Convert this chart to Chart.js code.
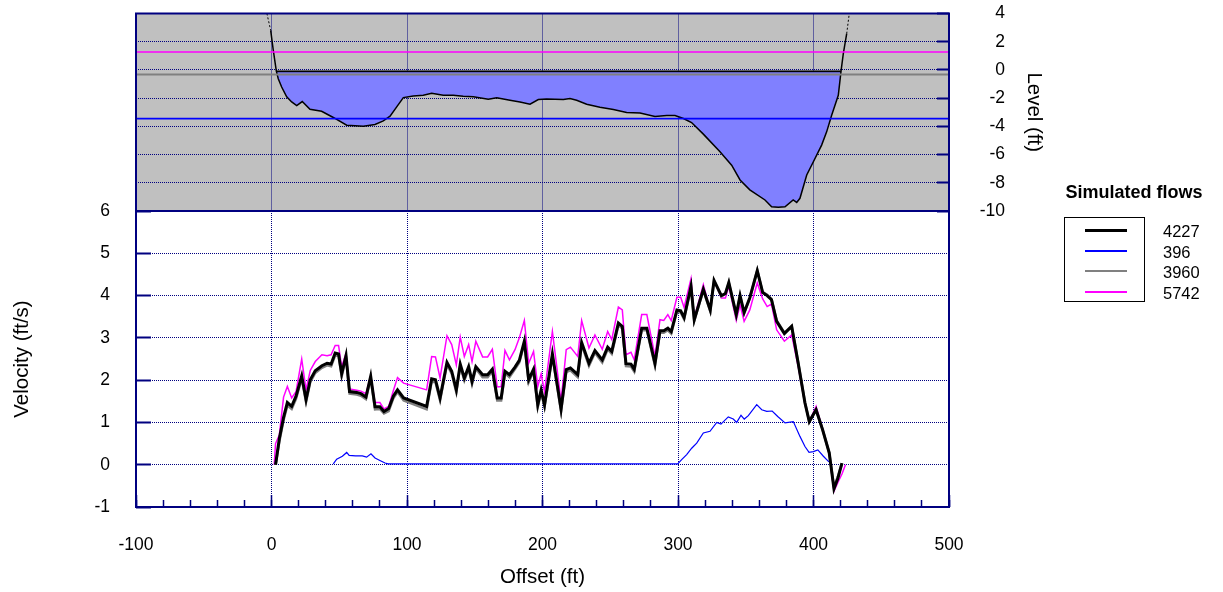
<!DOCTYPE html>
<html>
<head>
<meta charset="utf-8">
<script src="https://cdn.jsdelivr.net/npm/chart.js@4/dist/chart.umd.min.js"></script>
<style>
html, body { margin: 0; padding: 0; background: #fff; }
#wrap { position: relative; width: 1223px; height: 592px; overflow: hidden; font-family: 'Liberation Sans', Arial, sans-serif; color: #000; }
#wrap canvas { position: absolute; left: 0; top: 0; }
#legendTitle { position: absolute; left: 1056px; top: 181px; width: 156px; text-align: center; font-weight: bold; font-size: 18px; line-height: 22px; white-space: nowrap; }
#legendBox { position: absolute; left: 1064px; top: 217px; width: 79px; height: 83px; border: 1px solid #000; }
.legLine { position: absolute; left: 1085px; width: 42px; }
.legLabel { position: absolute; left: 1163px; font-size: 16.5px; line-height: 20px; white-space: nowrap; }
</style>
</head>
<body>
<div id="wrap">
  <canvas id="velChart" width="1223" height="592"></canvas>
  <canvas id="levelChart" width="1223" height="592"></canvas>
  <div id="legendTitle">Simulated flows</div>
  <div id="legendBox"></div>
</div>
<script>
// ---------------- data ----------------
const flowLabels = ['4227', '396', '3960', '5742'];
const flowColors = ['#000000', '#0000FF', '#808080', '#FF00FF'];

// upper panel: water surface level of each flow (ft) and its extent (ft)
const waterLevel  = [-0.1, -3.45, -0.32, 1.27];
const surfaceFrom = [3.6, -100, -100, -100];
const surfaceTo   = [420.3, 500, 500, 500];

// upper panel: ground profile
const profileOffset = [-3.4, -0.6, 1.3, 3.6, 5.0, 7.5, 11.2, 14.9, 18.6, 22.7, 28.4, 37, 45.6, 55.5, 67.8, 76.4, 82.5, 87.5, 92.4, 97.3,
  104.6, 112, 118.2, 126.8, 134.2, 141.5, 149, 160, 166.2, 176, 183.4, 190.8, 196.9, 203, 215.4, 220.3, 225.2, 232.6, 242.4, 252.3,
  262.1, 272, 283, 291.7, 297.8, 304, 310, 318.7, 331, 339.6, 345.8, 353, 364.2, 369.1, 374, 379, 385, 387.6, 390, 395,
  399.9, 406, 409.7, 413.4, 418.3, 420.3, 422, 424.5, 426.4];
const profileLevel = [4.0, 2.8, 1.4, -0.1, -0.62, -1.21, -1.9, -2.27, -2.53, -2.24, -2.79, -2.93, -3.37, -3.92, -3.99, -3.87, -3.61, -3.28, -2.62, -1.96,
  -1.85, -1.80, -1.65, -1.8, -1.8, -1.87, -1.9, -2.08, -1.98, -2.15, -2.27, -2.43, -2.1, -2.06, -2.1, -2.03, -2.15, -2.43, -2.64, -2.81,
  -3.02, -3.05, -3.3, -3.23, -3.23, -3.44, -3.73, -4.55, -5.8, -6.75, -7.8, -8.5, -9.22, -9.7, -9.73, -9.7, -9.22, -9.39, -9.1, -7.45,
  -6.51, -5.33, -4.39, -3.21, -1.8, -0.1, 1.15, 2.57, 4.0];

// lower panel: velocities (ft/s)
const offsets = [2.0, 3.0, 5.8, 8.9, 11.7, 14.9, 18.1, 22.3, 25.5, 28.6, 32.3, 37.2, 41, 44, 47, 49.5, 51.8, 55, 57.6, 62.9,
  66, 69.7, 73.2, 76.4, 80, 83, 86.5, 89.9, 93, 97.5, 114.5, 118.2, 121, 124.4, 129.5, 133, 136.4, 139.3, 142.3, 145.5,
  148, 150.8, 155.8, 159.5, 163, 166.6, 169.5, 172.3, 175.6, 179.7, 182.9, 186.6, 189.8, 193.4, 196.5, 199, 201.5, 207.3, 213.7, 217.5,
  220.6, 226, 228.9, 234.3, 238.7, 244.1, 248.1, 251.1, 256, 258.9, 261.6, 265.3, 267.7, 273.2, 277, 283, 286.7, 289.5, 292.5, 295,
  299.2, 302, 304.5, 309.6, 312, 318.7, 323.8, 326.6, 332, 335, 337.5, 343, 345.8, 348.8, 353, 358.5, 362.5, 365.8, 369, 372.8,
  378.5, 383.9, 388.7, 393.7, 396.9, 401.9, 406.7, 411.6, 415.1, 418, 421, 423.6];
const vel4227 = [null, 0.00, 0.62, 1.12, 1.47, 1.38, 1.62, 2.10, 1.54, 2.01, 2.22, 2.34, 2.40, 2.38, 2.64, 2.62, 2.15, 2.58, 1.73, 1.71,
  1.68, 1.60, 2.09, 1.37, 1.37, 1.26, 1.33, 1.62, 1.77, 1.58, 1.38, 2.03, 2.01, 1.58, 2.42, 2.21, 1.77, 2.38, 2.05, 2.32,
  1.97, 2.32, 2.13, 2.13, 2.26, 1.58, 1.58, 2.21, 2.13, 2.31, 2.47, 2.92, 2.01, 2.26, 1.42, 1.77, 1.42, 2.62, 1.32, 2.25,
  2.29, 2.13, 2.89, 2.40, 2.70, 2.48, 2.78, 2.68, 3.35, 3.27, 2.39, 2.38, 2.26, 3.23, 3.23, 2.40, 3.17, 3.17, 3.23, 3.15,
  3.66, 3.64, 3.48, 4.22, 3.43, 4.15, 3.66, 4.36, 4.00, 4.05, 4.31, 3.55, 4.00, 3.60, 3.95, 4.59, 4.07, 4.00, 3.90, 3.39,
  3.10, 3.27, 2.40, 1.46, 1.02, 1.30, 0.83, 0.28, -0.57, -0.32, 0.04, null];
const vel3960 = [null, 0.00, 0.55, 1.05, 1.40, 1.32, 1.56, 2.04, 1.48, 1.95, 2.17, 2.29, 2.35, 2.33, 2.59, 2.57, 2.09, 2.53, 1.68, 1.66,
  1.63, 1.55, 2.04, 1.31, 1.32, 1.21, 1.27, 1.57, 1.72, 1.52, 1.31, 1.97, 1.95, 1.52, 2.37, 2.15, 1.71, 2.33, 1.99, 2.27,
  1.91, 2.27, 2.07, 2.07, 2.21, 1.52, 1.52, 2.16, 2.07, 2.26, 2.42, 2.87, 1.95, 2.21, 1.36, 1.71, 1.36, 2.57, 1.26, 2.19,
  2.23, 2.07, 2.84, 2.34, 2.65, 2.42, 2.73, 2.62, 3.30, 3.22, 2.33, 2.32, 2.20, 3.18, 3.18, 2.34, 3.12, 3.12, 3.18, 3.10,
  3.62, 3.60, 3.44, 4.20, 3.40, 4.13, 3.63, 4.35, 3.98, 4.04, 4.30, 3.53, 3.99, 3.58, 3.94, 4.60, 4.08, 4.02, 3.92, 3.41,
  3.12, 3.28, 2.42, 1.47, 1.02, 1.30, 0.83, 0.28, -0.52, -0.28, 0.03, null];
const vel5742 = [0.00, 0.50, 0.71, 1.60, 1.85, 1.58, 1.73, 2.50, 1.77, 2.23, 2.44, 2.60, 2.58, 2.60, 2.82, 2.82, 2.31, 2.64, 1.79, 1.76,
  1.74, 1.68, 2.10, 1.47, 1.47, 1.32, 1.38, 1.75, 2.06, 1.93, 1.77, 2.56, 2.55, 2.05, 3.05, 2.84, 2.36, 3.02, 2.56, 2.84,
  2.44, 2.92, 2.55, 2.55, 2.73, 1.84, 1.85, 2.70, 2.48, 2.72, 3.00, 3.41, 2.40, 2.68, 1.85, 2.15, 1.72, 3.15, 1.50, 2.72,
  2.78, 2.56, 3.41, 2.76, 3.07, 2.73, 3.15, 2.96, 3.73, 3.66, 2.60, 2.66, 2.48, 3.55, 3.55, 2.56, 3.43, 3.41, 3.55, 3.41,
  3.96, 3.96, 3.72, 4.40, 3.47, 4.26, 3.65, 4.36, 3.94, 3.94, 4.22, 3.41, 3.78, 3.39, 3.66, 4.30, 3.92, 3.74, 3.80, 3.19,
  2.92, 3.07, 2.32, 1.44, 1.02, 1.38, 0.85, 0.25, -0.63, -0.42, -0.22, 0.00];
const offsets396 = [45.6, 48.1, 52.3, 55.5, 57.3, 62, 67, 70.2, 73.4, 76.4, 80, 83.8, 86,
  299.8, 302.7, 306.4, 310.1, 313.8, 318.7, 323.6, 328.6, 331.7, 337.1, 340.8, 343.3, 346.5, 348.9, 351.9, 358.1, 361.8,
  365.5, 369.5, 373.6, 379, 385.1, 390, 393.7, 396.7, 399.9, 403.2, 407.3, 411, 413.5];
const vel396 = [0.02, 0.13, 0.20, 0.29, 0.22, 0.21, 0.21, 0.18, 0.26, 0.16, 0.10, 0.04, 0.02,
  0.02, 0.12, 0.24, 0.39, 0.51, 0.75, 0.79, 1.00, 0.96, 1.13, 1.08, 1.00, 1.17, 1.08, 1.16, 1.42, 1.30,
  1.26, 1.27, 1.14, 0.99, 1.02, 0.67, 0.43, 0.29, 0.31, 0.35, 0.20, 0.08, 0.02];

// axis ranges / tick steps
const offsetRange = [-100, 500];
const offsetStep = 100;
const offsetMinorStep = 20;
const levelRange = [-10, 4];
const levelStep = 2;
const velRange = [-1, 6];
const velStep = 1;

// ---------------- drawing ----------------
const NAVY = '#000080';
const TICK_FONT = 17.5;
const TITLE_FONT = 20.5;
Chart.defaults.font.family = "'Liberation Sans', Arial, sans-serif";
Chart.defaults.color = '#000';

const pts = (xs, ys) => xs.map((x, i) => ({ x: x, y: ys[i] }));
const gridColor = (lo, hi) => (c) => (c.tick && (c.tick.value === lo || c.tick.value === hi)) ? 'rgba(0,0,0,0)' : NAVY;

const panelFrame = {
  id: 'panelFrame',
  beforeDraw(chart, args, opts) {
    if (!opts.fill) return;
    const { ctx, chartArea: a } = chart;
    ctx.save();
    ctx.fillStyle = opts.fill;
    ctx.fillRect(a.left, a.top, a.right - a.left, a.bottom - a.top);
    ctx.restore();
  },
  afterDraw(chart, args, opts) {
    const { ctx, chartArea: a } = chart;
    ctx.save();
    ctx.strokeStyle = NAVY;
    ctx.lineWidth = 2;
    ctx.strokeRect(a.left, a.top, a.right - a.left, a.bottom - a.top);
    ctx.restore();
  }
};

// ----- upper panel (cross-section) -----
const wetPoints = profileOffset
  .map((x, i) => ({ x: x, y: profileLevel[i] }))
  .filter(p => p.x >= surfaceFrom[0] && p.x <= surfaceTo[0]);

const levelDatasets = flowLabels.map((lab, i) => ({
  label: lab + ' level',
  data: [{ x: surfaceFrom[i], y: waterLevel[i] }, { x: surfaceTo[i], y: waterLevel[i] }],
  borderColor: flowColors[i],
  borderWidth: i === 2 ? 2 : 1.6,
  xAxisID: 'x', yAxisID: 'level'
}));
levelDatasets.push({
  label: 'Ground',
  data: pts(profileOffset, profileLevel),
  borderColor: '#000',
  borderWidth: 1.5,
  xAxisID: 'x', yAxisID: 'level',
  segment: {
    borderDash: c => (c.p0DataIndex === 0 || c.p1DataIndex === profileOffset.length - 1) ? [2, 2] : undefined,
    borderWidth: c => (c.p0DataIndex === 0 || c.p1DataIndex === profileOffset.length - 1) ? 1 : undefined
  }
});
levelDatasets.push({
  label: 'Wetted area',
  data: wetPoints,
  borderColor: 'rgba(0,0,0,0)',
  borderWidth: 0,
  backgroundColor: '#8080FF',
  fill: { value: waterLevel[0] },
  xAxisID: 'x', yAxisID: 'level'
});

new Chart(document.getElementById('levelChart'), {
  type: 'line',
  data: { datasets: levelDatasets },
  plugins: [panelFrame],
  options: {
    responsive: false, animation: false, devicePixelRatio: 1, events: [],
    layout: { padding: { left: 136, top: 13, right: 173, bottom: 381 } },
    elements: { point: { radius: 0 }, line: { tension: 0 } },
    plugins: { legend: { display: false }, tooltip: { enabled: false }, panelFrame: { fill: '#C0C0C0' } },
    scales: {
      x: {
        type: 'linear', position: 'bottom', min: offsetRange[0], max: offsetRange[1],
        ticks: { display: false, stepSize: offsetStep },
        grid: { color: gridColor(offsetRange[0], offsetRange[1]), drawTicks: false, lineWidth: 1 },
        border: { display: false, dash: [1, 1] },
        afterFit(s) { s.height = 0; }
      },
      level: {
        type: 'linear', axis: 'y', position: 'right', min: levelRange[0], max: levelRange[1], weight: 0,
        ticks: { stepSize: levelStep, crossAlign: 'far', font: { size: TICK_FONT }, color: '#000' },
        grid: { color: gridColor(levelRange[0], levelRange[1]), lineWidth: 1, tickLength: -12, tickColor: NAVY, tickWidth: 2, tickBorderDash: [] },
        border: { display: false, dash: [1, 1] },
        afterFit(s) { s.width = 56; }
      },
      levelTitle: {
        type: 'linear', axis: 'y', position: 'right', min: levelRange[0], max: levelRange[1], weight: 1,
        ticks: { display: false }, grid: { display: false }, border: { display: false },
        title: { display: true, text: 'Level (ft)', font: { size: TITLE_FONT }, color: '#000', padding: { top: 4, bottom: 4 } },
        afterFit(s) { s.width = 45; }
      }
    }
  }
});

// ----- lower panel (velocities) -----
const velDatasets = [
  { label: flowLabels[0], data: pts(offsets, vel4227), borderColor: flowColors[0], borderWidth: 3 },
  { label: flowLabels[2], data: pts(offsets, vel3960), borderColor: flowColors[2], borderWidth: 2.5 },
  { label: flowLabels[3], data: pts(offsets, vel5742), borderColor: flowColors[3], borderWidth: 1.5 },
  { label: flowLabels[1], data: pts(offsets396, vel396), borderColor: flowColors[1], borderWidth: 1.2 }
].map(d => Object.assign(d, { xAxisID: 'x', yAxisID: 'y', fill: false }));

new Chart(document.getElementById('velChart'), {
  type: 'line',
  data: { datasets: velDatasets },
  plugins: [panelFrame],
  options: {
    responsive: false, animation: false, devicePixelRatio: 1, events: [],
    layout: { padding: { left: 6, top: 211, right: 274, bottom: 0 } },
    elements: { point: { radius: 0 }, line: { tension: 0 } },
    plugins: { legend: { display: false }, tooltip: { enabled: false }, panelFrame: {} },
    scales: {
      x: {
        type: 'linear', position: 'bottom', min: offsetRange[0], max: offsetRange[1], weight: 1,
        ticks: { stepSize: offsetStep, padding: 39.5, font: { size: TICK_FONT }, color: '#000', maxRotation: 0, autoSkip: false },
        grid: { color: gridColor(offsetRange[0], offsetRange[1]), lineWidth: 1, tickLength: -12, tickColor: NAVY, tickWidth: 1.5, tickBorderDash: [] },
        border: { display: false, dash: [1, 1] },
        title: { display: true, text: 'Offset (ft)', font: { size: TITLE_FONT }, color: '#000', padding: { top: 0, bottom: 2 } },
        afterFit(s) { s.height = 85; }
      },
      xMinor: {
        type: 'linear', axis: 'x', position: 'bottom', min: offsetRange[0], max: offsetRange[1], weight: 0,
        ticks: { display: false, stepSize: offsetMinorStep, maxTicksLimit: 100 },
        grid: { drawOnChartArea: false, tickLength: -7, tickColor: NAVY, tickWidth: 1.5, tickBorderDash: [] },
        border: { display: false },
        afterFit(s) { s.height = 0; }
      },
      y: {
        type: 'linear', position: 'left', min: velRange[0], max: velRange[1],
        ticks: { stepSize: velStep, padding: 41, font: { size: TICK_FONT }, color: '#000' },
        grid: { color: gridColor(velRange[0], velRange[1]), lineWidth: 1, tickLength: -15, tickColor: NAVY, tickWidth: 2, tickBorderDash: [] },
        border: { display: false, dash: [1, 1] },
        title: { display: true, text: 'Velocity (ft/s)', font: { size: TITLE_FONT }, color: '#000', padding: { top: 4, bottom: 4 } },
        afterFit(s) { s.width = 130; }
      }
    }
  }
});

// ----- legend -----
const wrap = document.getElementById('wrap');
const legendWidths = [3, 2, 2, 2];
flowLabels.forEach((lab, i) => {
  const cy = Math.round(230 + i * 20.5);
  const line = document.createElement('div');
  line.className = 'legLine';
  line.style.top = Math.round(cy - legendWidths[i] / 2) + 'px';
  line.style.height = legendWidths[i] + 'px';
  line.style.background = flowColors[i];
  wrap.appendChild(line);
  const txt = document.createElement('div');
  txt.className = 'legLabel';
  txt.style.top = (cy - 9) + 'px';
  txt.textContent = lab;
  wrap.appendChild(txt);
});
</script>
</body>
</html>
